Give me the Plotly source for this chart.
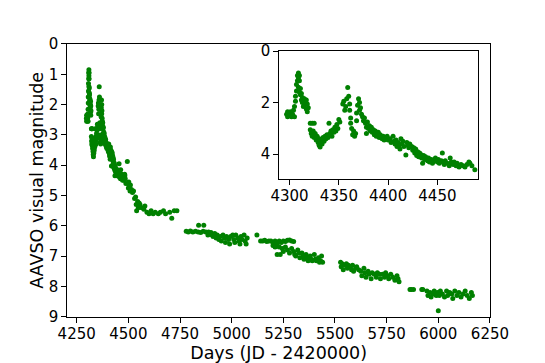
import plotly.graph_objects as go

# AAVSO visual estimates, days = JD - 2420000
# first outburst and the two peaks (these are also shown in the inset)
peak_days = [4297, 4298, 4298, 4300, 4301, 4302, 4303, 4304, 4305, 4305,
             4306, 4306, 4307, 4307, 4308, 4308, 4309, 4309, 4310, 4310,
             4309, 4310, 4311, 4311, 4312, 4312, 4313, 4313, 4314, 4315,
             4315, 4316, 4317, 4317, 4318, 4318, 4319]
peak_mag = [2.45, 2.35, 2.55, 2.5, 2.35, 2.55, 2.45, 2.3, 2.55, 2.15,
            1.95, 1.75, 1.55, 1.3, 1.15, 0.95, 0.85, 1.05, 0.95, 1.15,
            1.4, 1.6, 1.45, 1.7, 1.9, 1.65, 2.0, 1.8, 2.15, 1.85,
            2.1, 2.0, 2.25, 1.9, 2.05, 2.35, 2.2]

dip_days = [4321, 4323, 4325, 4321, 4322, 4323, 4324, 4325, 4326, 4327,
            4328, 4329, 4330, 4330, 4331, 4332, 4332, 4333, 4334, 4335,
            4336, 4337, 4338, 4339, 4340, 4341, 4342, 4343, 4344, 4345,
            4346, 4347, 4348, 4349, 4350, 4351]
dip_mag = [2.8, 2.8, 2.8, 3.05, 3.2, 3.3, 3.1, 3.35, 3.2, 3.45,
           3.3, 3.55, 3.4, 3.65, 3.72, 3.55, 3.45, 3.6, 3.35, 3.5,
           3.3, 3.4, 3.25, 3.35, 2.8, 3.2, 3.1, 3.3, 3.05, 3.15,
           2.95, 3.1, 2.85, 3.0, 2.65, 2.75]

second_days = [4354, 4355, 4356, 4357, 4358, 4359, 4360, 4361, 4361, 4362,
               4362, 4363, 4364, 4365, 4366, 4367, 4368, 4368, 4369, 4370,
               4371, 4371, 4372, 4373]
second_mag = [2.05, 1.95, 2.3, 2.15, 1.85, 1.41, 1.75, 2.05, 2.3, 2.6,
              2.8, 3.0, 3.25, 3.1, 3.3, 3.2, 2.7, 2.4, 2.1, 1.85,
              2.0, 2.3, 2.2, 2.45]

decline_days = [4374, 4375, 4376, 4377, 4378, 4378, 4379, 4380, 4381, 4382,
                4383, 4384, 4385, 4386, 4387, 4388, 4389, 4390, 4391, 4392,
                4394, 4395, 4396, 4398, 4399, 4400, 4402, 4403, 4405, 4406,
                4407, 4408, 4409, 4410, 4411, 4412, 4413, 4414, 4415, 4416,
                4418, 4419, 4420, 4421, 4422, 4424, 4425, 4426, 4427, 4428,
                4429, 4430, 4431, 4432, 4433, 4434, 4435, 4436, 4437, 4438,
                4440, 4441, 4442, 4444, 4445, 4447, 4448, 4450, 4451, 4452,
                4454, 4455, 4456, 4457, 4458, 4460, 4462, 4463, 4464, 4466,
                4467, 4469, 4470, 4472, 4474, 4476, 4478, 4480, 4482, 4483,
                4485, 4488]
decline_mag = [2.55, 2.7, 2.6, 2.8, 2.95, 3.2, 2.75, 3.0, 2.9, 3.1,
               2.95, 3.15, 3.05, 3.25, 3.1, 3.3, 3.2, 3.15, 3.35, 3.25,
               3.4, 3.3, 3.45, 3.35, 3.3, 3.45, 3.4, 3.55, 3.3, 3.5,
               3.6, 3.45, 3.7, 3.55, 3.65, 3.8, 3.4, 3.6, 3.5, 3.7,
               4.03, 3.55, 3.65, 3.75, 3.6, 3.7, 3.85, 3.75, 3.95, 3.8,
               4.05, 3.9, 4.1, 3.95, 4.0, 4.15, 4.35, 4.05, 4.2, 4.1,
               4.25, 4.15, 4.3, 4.2, 4.35, 4.25, 4.15, 4.3, 4.2, 4.35,
               4.25, 3.95, 4.3, 4.4, 4.25, 4.35, 4.45, 4.15, 4.3, 4.4,
               4.3, 4.45, 4.35, 4.5, 4.4, 4.45, 4.5, 4.4, 4.3, 4.35,
               4.45, 4.6]

# later, slow fading (main panel only)
fade_days = [4495, 4498, 4500, 4502, 4505, 4508, 4510, 4515, 4520, 4525,
             4530, 4535, 4538, 4540, 4545, 4548, 4552, 4556, 4565, 4575,
             4580, 4590, 4600, 4610, 4620, 4630, 4645, 4655, 4670, 4680,
             4700, 4710, 4722, 4735]
fade_mag = [3.88, 4.6, 4.75, 4.55, 4.7, 4.85, 4.65, 4.8, 4.9, 4.85,
            5.1, 5.05, 5.3, 5.5, 5.2, 5.4, 5.25, 5.3, 5.4, 5.45,
            5.35, 5.55, 5.6, 5.5, 5.6, 5.55, 5.6, 5.55, 5.5, 5.6,
            5.55, 5.75, 5.5, 5.5]

s1_days = [4780, 4790, 4800, 4812, 4825, 4838, 4850, 4862, 4875, 4888,
           4900, 4840, 4865, 4885, 4895, 4905, 4910, 4918, 4925, 4930,
           4938, 4945, 4950, 4958, 4965, 4970, 4975, 4985, 4990, 4995,
           5005, 5010, 5015, 5020, 5030, 5035, 5040, 5045, 5050, 5060,
           5065, 5070, 5075]
s1_mag = [6.18, 6.2, 6.17, 6.2, 6.18, 6.2, 6.22, 6.18, 6.2, 6.2,
          6.22, 5.98, 5.98, 6.3, 6.25, 6.3, 6.35, 6.25, 6.4, 6.3,
          6.45, 6.35, 6.5, 6.3, 6.4, 6.55, 6.35, 6.45, 6.6, 6.35,
          6.3, 6.45, 6.55, 6.3, 6.4, 6.5, 6.6, 6.35, 6.45, 6.3,
          6.5, 6.6, 6.4]

s2_days = [5122, 5140, 5150, 5160, 5170, 5180, 5190, 5200, 5210, 5220,
           5230, 5240, 5250, 5260, 5270, 5280, 5290, 5300, 5200, 5210,
           5220, 5230, 5235, 5245, 5250, 5260, 5270, 5280, 5290, 5300,
           5305, 5310, 5320, 5325, 5330, 5340, 5345, 5350, 5360, 5365,
           5370, 5380, 5385, 5390, 5400, 5405, 5410, 5420, 5425, 5430,
           5435, 5440]
s2_mag = [6.3, 6.5, 6.5, 6.48, 6.52, 6.5, 6.5, 6.55, 6.5, 6.6,
          6.5, 6.55, 6.5, 6.52, 6.48, 6.47, 6.5, 6.52, 6.65, 6.7,
          6.95, 6.7, 6.95, 6.75, 6.85, 6.7, 6.8, 6.9, 6.75, 6.85,
          6.95, 7.0, 6.8, 6.9, 7.05, 6.9, 7.0, 7.1, 6.95, 7.05,
          7.15, 7.0, 7.1, 7.15, 6.95, 7.1, 7.15, 7.05, 7.2, 7.15,
          7.0, 7.2]

s3_days = [5527, 5530, 5535, 5540, 5548, 5555, 5560, 5565, 5575, 5580,
           5585, 5590, 5600, 5605, 5615, 5625, 5630, 5640, 5645, 5650,
           5660, 5665, 5675, 5680, 5690, 5700, 5705, 5715, 5720, 5730,
           5740, 5745, 5755, 5760, 5770, 5780, 5790, 5800, 5805, 5810]
s3_mag = [7.2, 7.35, 7.25, 7.45, 7.3, 7.25, 7.4, 7.3, 7.35, 7.45,
          7.3, 7.5, 7.4, 7.35, 7.45, 7.5, 7.65, 7.4, 7.55, 7.7,
          7.5, 7.6, 7.75, 7.55, 7.6, 7.7, 7.55, 7.6, 7.75, 7.6,
          7.7, 7.55, 7.65, 7.75, 7.6, 7.7, 7.8, 7.65, 7.75, 7.85]

s4_days = [5863, 5870, 5880, 5920, 5925, 5945, 5950, 5960, 5965, 5975,
           5980, 5990, 5995, 6000, 6005, 6010, 6020, 6030, 6040, 6045,
           6055, 6065, 6070, 6080, 6090, 6100, 6110, 6120, 6130, 6140,
           6150, 6160, 6165]
s4_mag = [8.1, 8.1, 8.1, 8.1, 8.1, 8.15, 8.3, 8.2, 8.35, 8.25,
          8.15, 8.3, 8.2, 8.8, 8.3, 8.15, 8.25, 8.35, 8.15, 8.3,
          8.2, 8.25, 8.4, 8.15, 8.3, 8.2, 8.35, 8.25, 8.15, 8.3,
          8.4, 8.2, 8.3]

days = (peak_days + dip_days + second_days + decline_days + fade_days
        + s1_days + s2_days + s3_days + s4_days)
mags = (peak_mag + dip_mag + second_mag + decline_mag + fade_mag
        + s1_mag + s2_mag + s3_mag + s4_mag)

main_ticks = [4250, 4500, 4750, 5000, 5250, 5500, 5750, 6000, 6250]
inset_ticks = [4300, 4350, 4400, 4450]

FONT = "DejaVu Sans"
GREEN = "#008000"

fig = go.Figure()
fig.add_trace(go.Scatter(x=days, y=mags, mode="markers",
                         marker=dict(color=GREEN, size=5, line_width=0),
                         xaxis="x", yaxis="y"))
fig.add_trace(go.Scatter(x=days, y=mags, mode="markers",
                         marker=dict(color=GREEN, size=5, line_width=0),
                         xaxis="x2", yaxis="y2"))

axis_style = dict(showline=True, mirror=True, linecolor="black", linewidth=1,
                  ticks="outside", ticklen=5, tickcolor="black", tickwidth=1,
                  showgrid=False, zeroline=False, automargin=False,
                  tickfont=dict(family=FONT, size=15, color="black"))

fig.update_layout(
    width=545, height=363,
    margin=dict(l=0, r=0, t=0, b=0),
    paper_bgcolor="white", plot_bgcolor="white",
    showlegend=False,
    xaxis=dict(domain=[0.1235, 0.899], range=[4204.5, 6250],
               tickvals=main_ticks, anchor="y", ticklabelstandoff=-2,
               title=dict(text="Days (JD - 2420000)", standoff=6,
                          font=dict(family=FONT, size=17.5, color="black")),
               **axis_style),
    yaxis=dict(domain=[0.1275, 0.8788], range=[9, 0], dtick=1, anchor="x",
               title=dict(text="AAVSO visual magnitude", standoff=0,
                          font=dict(family=FONT, size=17.5, color="black")),
               **axis_style),
    xaxis2=dict(domain=[0.5125, 0.8776], range=[4289.6, 4491.5],
                tickvals=inset_ticks, anchor="y2", ticklabelstandoff=-2,
                **axis_style),
    yaxis2=dict(domain=[0.5069, 0.8595], range=[4.96, 0], tickvals=[0, 2, 4],
                anchor="x2", **axis_style),
)

# the page body has a default 8px margin; drop it so the figure sits at 0,0
fig.write_html("out.html", config={"displayModeBar": False},
               post_script="document.body.style.margin = '0px';")
